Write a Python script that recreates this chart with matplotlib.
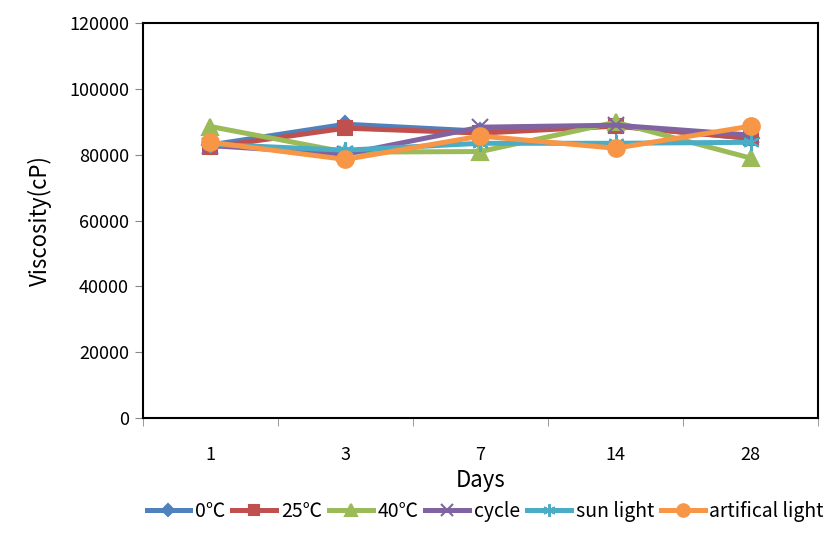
import matplotlib
matplotlib.use('Agg')
import matplotlib.pyplot as plt
import numpy as np

plt.rcParams['font.family'] = ['Noto Sans CJK KR', 'DejaVu Sans']

days = ['1', '3', '7', '14', '28']
labels = ['0℃', '25℃', '40℃', 'cycle', 'sun light', 'artifical light']

v_0c = [83000, 89300, 87200, 88800, 85000]
v_25c = [82300, 88100, 86600, 88700, 85000]
v_40c = [88600, 80800, 81000, 89900, 79000]
v_cycle = [82800, 80200, 88400, 89000, 86000]
v_sun = [83200, 81400, 83500, 83500, 83800]
v_art = [83800, 78600, 85700, 82000, 88700]

series = [v_0c, v_25c, v_40c, v_cycle, v_sun, v_art]
colors = ['#4F81BD', '#C0504D', '#9BBB59', '#8064A2', '#4BACC6', '#F79646']
markers = ['D', 's', '^', 'x', (6, 2, 0), 'o']
msizes = [8, 10, 11, 11, 12, 12]

fig = plt.figure(figsize=(8.4, 5.4), dpi=100)
ax = fig.add_axes([0.170, 0.226, 0.804, 0.731])

x = np.arange(len(days))
for vals, lab, c, m, ms in zip(series, labels, colors, markers, msizes):
    ax.plot(x, vals, color=c, lw=3.6, marker=m, ms=ms, mew=1.5,
            mec=c, mfc=c, label=lab)

ax.set_xlim(-0.5, len(days) - 0.5)
ax.set_ylim(0, 120000)
ax.set_yticks(np.arange(0, 120001, 20000))
ax.set_xticks(x)
ax.set_xticklabels(days)
ax.set_xticks(np.arange(-0.5, len(days), 1), minor=True)
ax.tick_params(axis='x', which='major', length=0, pad=20, labelsize=13)
ax.tick_params(axis='x', which='minor', length=6, direction='out', color='#888888')
ax.tick_params(axis='y', length=6, direction='out', color='#888888', labelsize=13, pad=4)

for s in ax.spines.values():
    s.set_linewidth(1.5)
    s.set_color('black')

ax.set_xlabel('Days', fontsize=16, labelpad=4)
ax.set_ylabel('Viscosity(cP)', fontsize=16, labelpad=12)

ax.legend(loc='upper center', bbox_to_anchor=(0.507, -0.19), ncol=6, frameon=False,
          fontsize=14, handlelength=2.25, handletextpad=0.25, columnspacing=0.35,
          borderaxespad=0, markerscale=0.75)

fig.savefig('out.png', dpi=100)
